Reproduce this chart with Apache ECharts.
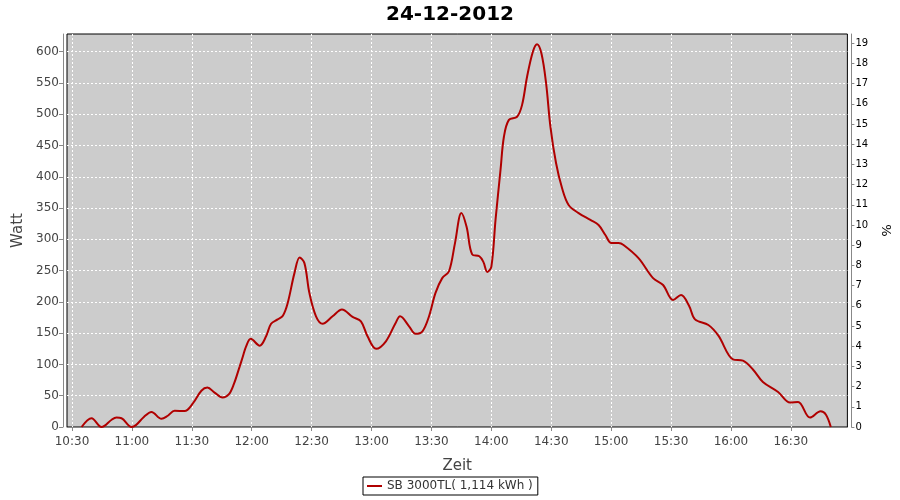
<!DOCTYPE html>
<html>
<head>
<meta charset="utf-8">
<script src="https://cdn.jsdelivr.net/npm/echarts@6/dist/echarts.min.js"></script>
<style>html,body{margin:0;padding:0;background:#fff;}#c{width:900px;height:500px;}</style>
</head>
<body>
<div id="c"></div>
<script>
const title = '24-12-2012';
const seriesName = 'SB 3000TL( 1,114 kWh )';
const times = ['10:34:48','10:39:48','10:44:48','10:50:00','10:52:18','10:54:48','10:59:48','11:02:00','11:06:00','11:09:48',
 '11:14:48','11:18:00','11:21:24','11:26:24','11:30:36','11:34:48','11:37:48','11:41:24','11:45:24','11:48:30',
 '11:51:00','11:54:00','11:55:36','11:57:12','11:59:30','12:04:00','12:07:12','12:09:42','12:13:00','12:15:36',
 '12:18:00','12:21:24','12:24:00','12:26:24','12:28:54','12:32:12','12:35:30','12:40:30','12:45:12','12:50:30',
 '12:54:42','12:58:00','13:02:18','13:07:12','13:12:00','13:14:18','13:18:48','13:22:00','13:25:30','13:28:48',
 '13:32:00','13:35:24','13:38:48','13:41:48','13:45:00','13:47:36','13:50:24','13:54:00','13:56:00','13:58:00',
 '14:00:00','14:02:06','14:04:36','14:06:18','14:08:48','14:12:54','14:15:24','14:17:54','14:20:48','14:22:54',
 '14:25:06','14:27:24','14:29:36','14:32:24','14:35:24','14:38:42','14:43:42','14:49:36','14:53:42','14:57:06',
 '15:00:06','15:03:42','15:06:12','15:13:42','15:21:00','15:26:00','15:31:00','15:35:00','15:39:00','15:42:00',
 '15:48:42','15:53:42','16:01:00','16:06:00','16:11:00','16:16:00','16:23:36','16:29:36','16:33:36','16:39:36',
 '16:44:54','16:47:30','16:50:00'];
const watts = [0,14,0,12,15,14,0,3,16,24,
 13,18,26,25.5,38,58,63,55,47,52,
 68,97,113,129,141,130,145,165,172,178,
 198,246,271,262,214,177,165,177,188,176,
 169,145,125,137,166,177,161,149,153,177,
 214,238,249,294,342,320,276,273,264,248,
 256,331,411,464,491,496,515,560,600,612,
 597,550,480,422,382,355,342,331,323,307,
 294,294,291,270,238,227,203,211,194,172,
 163,146,108,106,92,72,56,39,40,15,
 25,20,0];
const xTickLabels = ['10:30','11:00','11:30','12:00','12:30','13:00','13:30','14:00','14:30','15:00','15:30','16:00','16:30'];
const wattTicks = [0,50,100,150,200,250,300,350,400,450,500,550,600];
const pctTicks = [0,1,2,3,4,5,6,7,8,9,10,11,12,13,14,15,16,17,18,19];

function toMin(s){const p=s.split(':').map(Number);return p[0]*60+p[1]+(p[2]||0)/60;}
function fmt(m){const h=Math.floor(m/60);const mm=Math.round(m-h*60);return h+':'+(mm<10?'0':'')+mm;}
const data = times.map((t,i)=>[toMin(t), watts[i]]);
const xTicks = xTickLabels.map(toMin);

const chart = echarts.init(document.getElementById('c'));
const font = 'DejaVu Sans';
chart.setOption({
  animation:false,
  backgroundColor:'#ffffff',
  textStyle:{fontFamily:font},
  title:{text:title,left:'center',top:0,textStyle:{fontFamily:font,fontSize:20,fontWeight:'bold',color:'#000'}},
  grid:{left:67,right:51,top:34,bottom:73,show:true,backgroundColor:'#cccccc',borderColor:'#000',borderWidth:1,containLabel:false},
  legend:{left:363,top:477,padding:[3,5,3,4],itemWidth:15,itemHeight:10,borderColor:'#000',borderWidth:1,
    textStyle:{fontFamily:font,fontSize:12,color:'#333'},data:[{name:seriesName,icon:'path://M0,4H15V6H0Z'}]},
  xAxis:{type:'value',min:627.5,max:1018.3,offset:4,name:'Zeit',nameLocation:'middle',nameGap:28,
    nameTextStyle:{fontFamily:font,fontSize:15,color:'#444'},
    axisLine:{show:true,lineStyle:{color:'#888',width:1}},
    axisTick:{show:true,length:4,customValues:xTicks,lineStyle:{color:'#888'}},
    axisLabel:{customValues:xTicks,formatter:v=>fmt(v),fontFamily:font,fontSize:12,color:'#444',margin:5},
    splitLine:{show:true,lineStyle:{color:'#ffffff',type:[2,2],width:1}}},
  yAxis:[
    {type:'value',min:0,max:628.3,offset:4,name:'Watt',nameLocation:'middle',nameGap:37,
     nameTextStyle:{fontFamily:font,fontSize:15,color:'#444'},
     axisLine:{show:true,lineStyle:{color:'#888',width:1}},
     axisTick:{show:true,length:4,customValues:wattTicks,lineStyle:{color:'#888'}},
     axisLabel:{customValues:wattTicks,fontFamily:font,fontSize:12,color:'#444',margin:4},
     splitLine:{show:true,lineStyle:{color:'#ffffff',type:[2,2],width:1}}},
    {type:'value',min:0,max:19.46,offset:4,position:'right',name:'%',nameLocation:'middle',nameGap:25,nameRotate:-90,
     nameTextStyle:{fontFamily:font,fontSize:13,color:'#000'},
     axisLine:{show:true,lineStyle:{color:'#888',width:1}},
     axisTick:{show:true,length:3,customValues:pctTicks,lineStyle:{color:'#888'}},
     axisLabel:{customValues:pctTicks,fontFamily:font,fontSize:10,color:'#000',margin:4},
     splitLine:{show:false}}
  ],
  series:[{name:seriesName,type:'line',data:data,yAxisIndex:0,showSymbol:false,smooth:0.35,
    lineStyle:{color:'#b00000',width:2},itemStyle:{color:'#b00000'}}]
});
</script>
</body>
</html>
